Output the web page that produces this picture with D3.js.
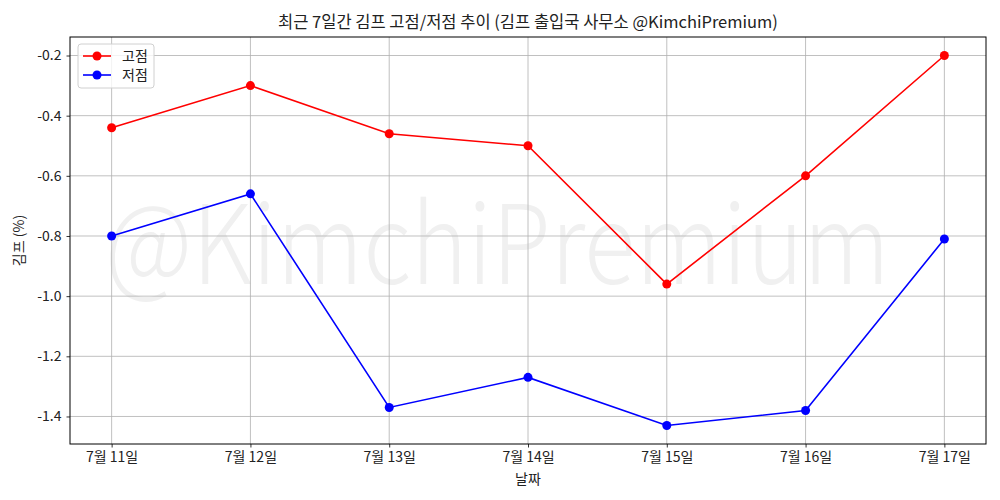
<!DOCTYPE html>
<html>
<head>
<meta charset="utf-8">
<script src="https://cdn.jsdelivr.net/npm/d3@7"></script>
<style>
  body { margin: 0; background: #fff; }
  svg text { font-family: "Noto Sans CJK KR", "Noto Sans", sans-serif; fill: #222; }
</style>
</head>
<body>
<svg id="chart" width="1000" height="500"></svg>
<script>
// Data
const dates = ['7월 11일', '7월 12일', '7월 13일', '7월 14일', '7월 15일', '7월 16일', '7월 17일'];
const highs = [-0.44, -0.30, -0.46, -0.50, -0.96, -0.60, -0.20];
const lows = [-0.80, -0.66, -1.37, -1.27, -1.43, -1.38, -0.81];
const yTicks = [-0.2, -0.4, -0.6, -0.8, -1.0, -1.2, -1.4];

const svg = d3.select('#chart');
const margin = {left: 70, right: 14, top: 37, bottom: 56};
const W = 1000, H = 500;
const plotW = W - margin.left - margin.right;
const plotH = H - margin.top - margin.bottom;

// matplotlib-like 5% padding
const n = dates.length;
const x = d3.scaleLinear().domain([-0.3, n - 1 + 0.3]).range([margin.left, margin.left + plotW]);
const all = highs.concat(lows);
const ymin = d3.min(all), ymax = d3.max(all);
const pad = (ymax - ymin) * 0.05;
const y = d3.scaleLinear().domain([ymin - pad, ymax + pad]).range([margin.top + plotH, margin.top]);

const g = svg.append('g');

// watermark
g.append('text')
    .attr('x', 105)
    .attr('y', 284)
    .attr('textLength', 785)
    .attr('lengthAdjust', 'spacingAndGlyphs')
    .style('font-size', '110px')
    .style('font-weight', 300)
    .style('fill', '#f0f0f0')
    .text('@KimchiPremium');

// grid
g.selectAll('.gx').data(d3.range(n)).enter().append('line')
    .attr('x1', d => x(d)).attr('x2', d => x(d))
    .attr('y1', margin.top).attr('y2', margin.top + plotH)
    .attr('stroke', '#b0b0b0').attr('stroke-width', 0.8);
g.selectAll('.gy').data(yTicks).enter().append('line')
    .attr('x1', margin.left).attr('x2', margin.left + plotW)
    .attr('y1', d => y(d)).attr('y2', d => y(d))
    .attr('stroke', '#b0b0b0').attr('stroke-width', 0.8);

// axes
const xAxis = d3.axisBottom(x).tickValues(d3.range(n)).tickFormat(i => dates[i]).tickSize(3.5).tickPadding(5);
const yAxis = d3.axisLeft(y).tickValues(yTicks).tickFormat(d3.format('.1f')).tickSize(3.5).tickPadding(5);

const gx = svg.append('g').attr('transform', `translate(0,${margin.top + plotH})`).call(xAxis);
const gy = svg.append('g').attr('transform', `translate(${margin.left},0)`).call(yAxis);
[gx, gy].forEach(a => {
    a.select('.domain').remove();
    a.selectAll('.tick line').attr('stroke', '#000').attr('stroke-width', 0.8);
    a.selectAll('.tick text').style('font-size', '14px').style('fill', '#222');
});
gy.selectAll('.tick text').text(d => d3.format('.1f')(d).replace('−', '-'));

// frame
svg.append('rect')
    .attr('x', margin.left).attr('y', margin.top)
    .attr('width', plotW).attr('height', plotH)
    .attr('fill', 'none').attr('stroke', '#000').attr('stroke-width', 1);

// series
const series = [
    {name: '고점', values: highs, color: '#ff0000'},
    {name: '저점', values: lows, color: '#0000ff'}
];
const line = d3.line().x((d, i) => x(i)).y(d => y(d));
series.forEach(s => {
    svg.append('path').datum(s.values)
        .attr('d', line).attr('fill', 'none')
        .attr('stroke', s.color).attr('stroke-width', 1.6);
    svg.selectAll(null).data(s.values).enter().append('circle')
        .attr('cx', (d, i) => x(i)).attr('cy', d => y(d))
        .attr('r', 4.5).attr('fill', s.color);
});

// legend
const lg = svg.append('g').attr('transform', `translate(${margin.left + 8},${margin.top + 7})`);
lg.append('rect').attr('width', 76).attr('height', 44).attr('rx', 3)
    .attr('fill', '#fff').attr('fill-opacity', 0.8).attr('stroke', '#d0d0d0');
series.forEach((s, i) => {
    const yy = 12 + i * 19;
    lg.append('line').attr('x1', 5).attr('x2', 33).attr('y1', yy).attr('y2', yy)
        .attr('stroke', s.color).attr('stroke-width', 1.6);
    lg.append('circle').attr('cx', 19).attr('cy', yy).attr('r', 4.5).attr('fill', s.color);
    lg.append('text').attr('x', 44).attr('y', yy + 5)
        .style('font-size', '14px').text(s.name);
});

// title and labels
svg.append('text')
    .attr('x', margin.left + plotW / 2).attr('y', 28)
    .attr('text-anchor', 'middle')
    .style('font-size', '16.5px')
    .text('최근 7일간 김프 고점/저점 추이 (김프 출입국 사무소 @KimchiPremium)');
svg.append('text')
    .attr('x', margin.left + plotW / 2).attr('y', 484)
    .attr('text-anchor', 'middle')
    .style('font-size', '14px')
    .text('날짜');
svg.append('text')
    .attr('transform', `translate(24,${margin.top + plotH / 2}) rotate(-90)`)
    .attr('text-anchor', 'middle')
    .style('font-size', '14px')
    .text('김프 (%)');
</script>
</body>
</html>
